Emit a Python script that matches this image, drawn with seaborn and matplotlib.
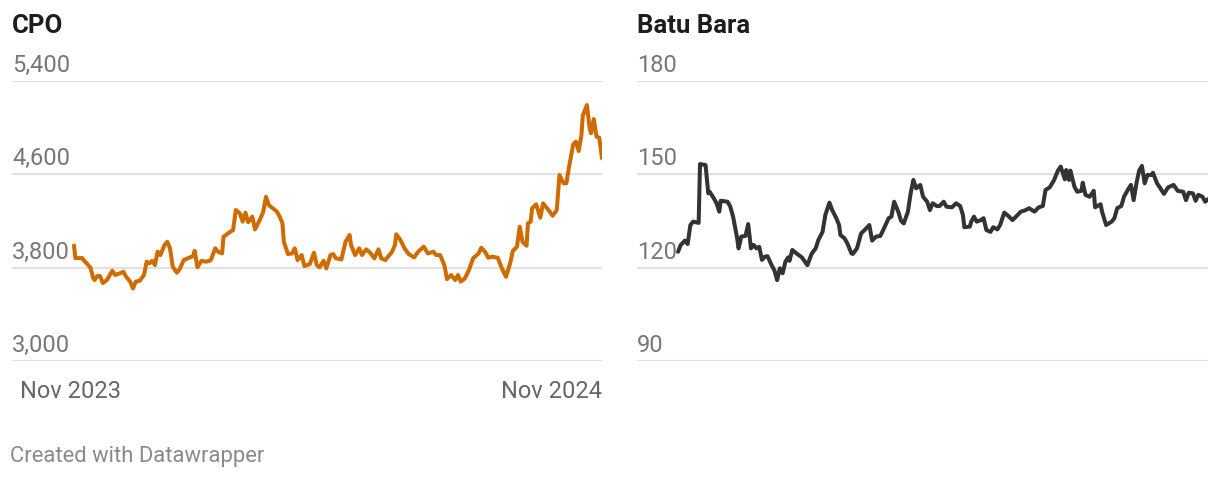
import pandas as pd
import numpy as np
import matplotlib
matplotlib.use("Agg")
import matplotlib.pyplot as plt
import matplotlib.transforms as mtransforms
import seaborn as sns

# %%
# data: days since 3 Nov 2023 and closing price
start = pd.Timestamp("2023-11-03")

cpo_days = [0, 1, 6, 7, 9, 12, 14, 15, 17, 19, 21, 24, 28, 30, 34, 36, 38, 41, 43, 45,
            48, 51, 53, 55, 57, 59, 61, 63, 66, 68, 70, 72, 75, 77, 80, 83, 87, 88, 90, 93,
            96, 99, 100, 103, 105, 108, 109, 114, 116, 118, 121, 123, 125, 127, 130, 132, 136, 138, 140, 142,
            145, 148, 150, 152, 153, 156, 159, 161, 163, 166, 168, 172, 175, 177, 179, 182, 184, 187, 189, 191,
            195, 198, 201, 202, 205, 208, 210, 213, 216, 219, 222, 224, 227, 232, 234, 235, 238, 241, 244, 248,
            251, 255, 258, 262, 264, 267, 268, 270, 272, 275, 278, 280, 282, 285, 288, 291, 295, 297, 300, 302,
            305, 309, 312, 315, 318, 320, 323, 325, 327, 330, 331, 333, 334, 337, 340, 342, 346, 349, 352, 354,
            357, 359, 361, 364, 366, 368, 370, 371, 374, 376, 377, 379, 381, 383, 385]
cpo_values = [3990, 3882, 3882, 3865, 3840, 3800, 3710, 3694, 3728, 3728, 3668, 3694, 3774, 3737, 3754, 3765, 3722, 3680, 3622, 3680,
              3688, 3737, 3851, 3837, 3859, 3822, 3937, 3908, 3994, 4022, 3966, 3808, 3757, 3786, 3865, 3880, 3900, 3945, 3803, 3859,
              3851, 3859, 3871, 3966, 3937, 3922, 4065, 4108, 4122, 4294, 4265, 4194, 4272, 4190, 4237, 4128, 4223, 4280, 4408, 4337,
              4308, 4280, 4237, 4180, 4022, 3917, 3922, 3966, 3865, 3908, 3814, 3831, 3928, 3822, 3803, 3859, 3794, 3908, 3917, 3880,
              3871, 4022, 4080, 3994, 3908, 3966, 3908, 3957, 3928, 3880, 3957, 3880, 3865, 3937, 3994, 4086, 4037, 3966, 3917, 3888,
              3937, 3980, 3922, 3937, 3908, 3908, 3880, 3822, 3702, 3737, 3694, 3737, 3680, 3708, 3780, 3880, 3922, 3971, 3931, 3885,
              3894, 3885, 3794, 3722, 3837, 3943, 3980, 4151, 4022, 3988, 4180, 4194, 4308, 4343, 4228, 4351, 4294, 4245, 4294, 4594,
              4523, 4523, 4665, 4857, 4880, 4800, 4937, 5103, 5194, 4994, 4952, 5074, 4923, 4914, 4737]

coal_days = [0, 2, 5, 7, 9, 11, 15, 16, 20, 22, 23, 26, 28, 30, 31, 36, 38, 40, 43, 44,
             46, 49, 51, 53, 55, 57, 59, 61, 63, 65, 68, 70, 72, 74, 76, 78, 80, 81, 83, 86,
             90, 94, 97, 100, 102, 105, 107, 110, 112, 115, 117, 118, 121, 123, 126, 127, 130, 133, 136, 139,
             141, 144, 147, 150, 153, 155, 157, 160, 162, 164, 167, 169, 171, 173, 176, 178, 181, 183, 185, 188,
             190, 193, 195, 199, 202, 205, 207, 208, 212, 213, 215, 217, 220, 222, 224, 227, 229, 232, 234, 237,
             240, 243, 246, 249, 252, 255, 259, 262, 265, 267, 270, 273, 276, 278, 281, 282, 284, 285, 288, 290,
             293, 294, 296, 299, 302, 303, 307, 308, 310, 311, 315, 317, 319, 322, 324, 327, 329, 331, 333, 335,
             337, 339, 341, 344, 345, 348, 350, 353, 356, 360, 363, 367, 369, 371, 374, 376, 378, 381, 383, 385]
coal_values = [125.1, 127.3, 128.7, 127.6, 133.7, 134.8, 134.4, 153.3, 153.0, 143.9, 144.4, 142.3, 140.7, 138.0, 141.5, 141.2, 139.6, 136.4, 129.4, 126.2,
               130.0, 130.2, 134.0, 126.2, 127.3, 126.2, 126.7, 122.5, 123.5, 123.7, 120.8, 119.2, 116.0, 119.8, 118.2, 121.9, 123.3, 122.2, 125.7, 124.6,
               123.3, 120.8, 124.4, 126.2, 128.9, 131.5, 136.9, 140.9, 138.5, 135.9, 133.7, 130.5, 129.4, 127.8, 124.6, 124.4, 126.2, 131.0, 132.3, 133.7,
               128.7, 130.0, 130.2, 133.0, 135.9, 136.4, 141.2, 138.0, 135.1, 134.2, 138.0, 143.9, 148.2, 145.5, 146.6, 142.8, 141.2, 138.5, 140.7, 139.8,
               139.8, 141.2, 139.6, 139.4, 140.7, 139.8, 136.9, 133.0, 133.2, 134.8, 136.4, 134.8, 135.3, 135.9, 132.1, 131.5, 133.0, 132.3, 133.7, 137.7,
               136.6, 135.3, 136.6, 138.0, 138.4, 139.1, 138.0, 139.4, 139.8, 145.0, 145.8, 148.0, 151.2, 152.5, 148.4, 151.4, 148.2, 151.2, 146.0, 144.4,
               144.7, 147.3, 143.4, 142.8, 144.7, 139.4, 140.4, 138.0, 135.1, 133.7, 134.8, 135.9, 139.1, 139.8, 142.8, 145.2, 146.6, 141.7, 147.1, 151.2,
               152.7, 147.1, 149.8, 149.8, 150.5, 147.1, 145.8, 143.7, 145.8, 146.6, 144.7, 144.4, 141.7, 144.1, 143.9, 141.5, 143.4, 142.8, 141.2, 142.0]

cpo_ticks = [3000, 3800, 4600, 5400]
coal_ticks = [90, 120, 150, 180]
x_labels = ["Nov 2023", "Nov 2024"]

cpo = pd.DataFrame({"date": start + pd.to_timedelta(cpo_days, unit="D"), "value": cpo_values})
coal = pd.DataFrame({"date": start + pd.to_timedelta(coal_days, unit="D"), "value": coal_values})

# %%
sns.set_theme(style="white")
plt.rcParams["font.family"] = ["Roboto", "DejaVu Sans"]

W, H = 1220, 478
fig = plt.figure(figsize=(W / 100, H / 100), dpi=100)


def make_axes(px_left, px_right, px_data_left, df, ticks, color, title, fmt):
    ax = fig.add_axes([px_left / W, (H - 361) / H, (px_right - px_left) / W, 280 / H])
    sns.lineplot(data=df, x="date", y="value", ax=ax, color=color, linewidth=2.9,
                 solid_joinstyle="round", solid_capstyle="round")
    d0, d1 = df["date"].iloc[0], df["date"].iloc[-1]
    days_per_px = (d1 - d0) / (px_right - px_data_left)
    ax.set_xlim(d0 - days_per_px * (px_data_left - px_left), d1)
    ax.set_ylim(ticks[0], ticks[-1])
    ax.set_yticks(ticks)
    ax.set_yticklabels([])
    ax.tick_params(axis="y", length=0)
    ax.grid(axis="y", color="#e1e1e1", linewidth=1.5)
    ax.set_axisbelow(True)
    for s in ax.spines.values():
        s.set_visible(False)
    ax.set_xlabel("")
    ax.set_ylabel("")
    trans = mtransforms.offset_copy(ax.get_yaxis_transform(), fig=fig, x=0, y=9, units="dots")
    for t in ticks:
        ax.text(0, t, fmt(t), transform=trans, ha="left", va="baseline",
                fontsize=17, color="#777777")
    fig.text(px_left / W, 1 - 33 / H, title, fontsize=18.5, fontweight="bold",
             color="#1d1d1d", ha="left", va="baseline")
    return ax, d0, d1


ax1, c0, c1 = make_axes(12, 602, 74, cpo, cpo_ticks, "#d06b00", "CPO", lambda v: f"{v:,}")
ax1.set_xticks([c0, c1])
ax1.set_xticklabels(x_labels, fontsize=17, color="#666666")
ax1.tick_params(axis="x", length=0, pad=14)
lbls = ax1.get_xticklabels()
lbls[0].set_ha("center")
lbls[0].set_transform(lbls[0].get_transform() + mtransforms.ScaledTranslation(-3 / 100, 0, fig.dpi_scale_trans))
lbls[1].set_ha("right")

ax2, _, _ = make_axes(637, 1208, 678, coal, coal_ticks, "#333333", "Batu Bara", lambda v: f"{v}")
ax2.set_xticks([])

fig.text(10 / W, 1 - 462 / H, "Created with Datawrapper", fontsize=15.8, color="#8a8a8a",
         ha="left", va="baseline")

fig.savefig("out.png", dpi=100)
